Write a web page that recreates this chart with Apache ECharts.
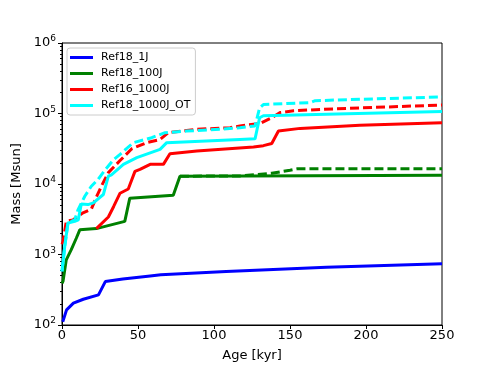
<!DOCTYPE html>
<html lang="en">
<head>
    <meta charset="UTF-8">
    <title>Mass vs Age</title>
    <script src="https://cdn.jsdelivr.net/npm/echarts@6/dist/echarts.min.js"></script>
    <style>
        body { margin: 0; background: #fff; }
    </style>
</head>
<body>
<div id="main" style="width: 491px;height:367px;"></div>
<script>
    // legend names
    var names = ['Ref18_1J', 'Ref18_100J', 'Ref16_1000J', 'Ref18_1000J_OT'];
    var xTicks = [0, 50, 100, 150, 200, 250];

    // Ref18_1J (solid)
    var ageBlue = [0.5, 3, 7.5, 14, 24, 28.5, 40, 58, 65, 108, 174, 250];
    var massBlue = [111, 164, 204, 232, 267, 413, 450, 496, 515, 574, 660, 738];

    // Ref18_100J solid / dashed
    var ageGreen = [0, 0.7, 2.8, 6.1, 9.4, 11.7, 22.6, 41.3, 44.6, 73.2, 77.6, 250];
    var massGreen = [390, 420, 840, 1170, 1700, 2240, 2330, 2950, 6300, 6900, 12900, 13300];
    var ageGreenD = [77.6, 117, 138, 150, 154.5, 250];
    var massGreenD = [12900, 13000, 14200, 15700, 16400, 16500];

    // Ref16_1000J solid / dashed
    var ageRed = [22.6, 30.5, 34, 38.2, 43.6, 48, 51.3, 58, 66.7, 71, 88.7, 126, 132.5, 138, 142.4, 156.7, 196, 250];
    var massRed = [2330, 3400, 4800, 7400, 8500, 15100, 16100, 19000, 19000, 26900, 29300, 33500, 35000, 37500, 56500, 61500, 68000, 74000];
    var ageRedD = [0, 0.7, 2.8, 7.2, 13.8, 19.3, 22.6, 25.9, 30.5, 38.2, 45.9, 55.8, 64.5, 70, 88.7, 110.6, 117, 130, 138, 143.5, 152.3, 172, 250];
    var massRedD = [1400, 1530, 2950, 3100, 3900, 4400, 6500, 9300, 14500, 21500, 31600, 38600, 42800, 53500, 59700, 63000, 66500, 72000, 87000, 103000, 109000, 115000, 132000];

    // Ref18_1000J_OT solid / dashed
    var ageCyan = [0, 1.8, 3.9, 8.4, 10.7, 12.7, 17.1, 20.6, 27.2, 30.5, 32.5, 40.4, 49.2, 64.5, 68.9, 117, 127, 130, 132.5, 250];
    var massCyan = [575, 1300, 2800, 2950, 3100, 5200, 5100, 5400, 7100, 12900, 13500, 19000, 23600, 31000, 38600, 42800, 43700, 87000, 93000, 107000];
    var ageCyanD = [0, 1.8, 3.9, 8.4, 10.5, 15, 19.3, 23.7, 28, 33.8, 38.2, 46.9, 59, 67.8, 82, 104, 117, 127, 130, 132.5, 163.3, 166.6, 250];
    var massCyanD = [575, 1300, 2800, 3100, 4300, 6700, 9300, 11600, 15500, 22000, 26300, 38600, 45400, 53500, 56400, 59700, 63000, 66500, 120000, 134000, 143000, 152000, 172000];

    function pairs(a, m) {
        var out = [];
        for (var i = 0; i < a.length; i++) {
            out.push([a[i], m[i]]);
        }
        return out;
    }

    // minor ticks 2..9 of each decade, in log10 units for the helper axis
    var minorTicks = [];
    for (var d = 2; d < 6; d++) {
        for (var k = 2; k < 10; k++) {
            minorTicks.push(d + Math.log10(k));
        }
    }

    function line(name, color, a, m, dashed) {
        return {
            name: name,
            type: 'line',
            data: pairs(a, m),
            showSymbol: false,
            symbol: 'none',
            silent: true,
            lineStyle: {color: color, width: 3, type: dashed ? [9, 4] : 'solid'},
            itemStyle: {color: color},
            animation: false
        };
    }

    var myChart = echarts.init(document.getElementById('main'));
    myChart.setOption({
        backgroundColor: '#fff',
        textStyle: {fontFamily: 'DejaVu Sans'},
        grid: {
            left: 62, right: 49, top: 43, bottom: 41,
            show: true, borderColor: '#000', borderWidth: 1
        },
        legend: {
            data: names.map(function (n) { return {name: n, icon: 'rect'}; }),
            orient: 'vertical',
            left: 67, top: 48,
            itemWidth: 23, itemHeight: 3,
            itemGap: 3,
            padding: [3, 5, 3, 3],
            backgroundColor: '#fff',
            borderColor: '#ccc', borderWidth: 1, borderRadius: 3,
            textStyle: {fontSize: 11, lineHeight: 13, color: '#000', padding: [0, 0, 0, 3]}
        },
        xAxis: {
            type: 'value',
            min: 0, max: 250, interval: 50,
            name: 'Age [kyr]',
            nameLocation: 'middle',
            nameGap: 24,
            nameTextStyle: {fontSize: 13, color: '#000'},
            axisLine: {lineStyle: {color: '#000'}},
            axisTick: {inside: false, length: 4, lineStyle: {color: '#000'}},
            axisLabel: {fontSize: 13, color: '#000', margin: 4},
            splitLine: {show: false}
        },
        yAxis: [{
            type: 'log',
            logBase: 10,
            min: 100, max: 1000000,
            name: 'Mass [Msun]',
            nameLocation: 'middle',
            nameGap: 38,
            nameTextStyle: {fontSize: 13, color: '#000'},
            axisLine: {lineStyle: {color: '#000'}},
            axisTick: {length: 4, lineStyle: {color: '#000'}},
            axisLabel: {
                fontSize: 13, color: '#000', margin: 6,
                formatter: function (v) {
                    return '10{sup|' + Math.round(Math.log10(v)) + '}';
                },
                rich: {sup: {fontSize: 9, padding: [0, 0, 8, 0]}}
            },
            splitLine: {show: false}
        }, {
            type: 'value',
            position: 'left',
            min: 2, max: 6,
            axisLine: {show: false},
            axisLabel: {show: false},
            splitLine: {show: false},
            axisTick: {show: true, length: 2, customValues: minorTicks, lineStyle: {color: '#000'}}
        }],
        series: [
            line('Ref18_1J', '#0000ff', ageBlue, massBlue, false),
            line('Ref18_100J', '#008000', ageGreen, massGreen, false),
            line('Ref18_100J_d', '#008000', ageGreenD, massGreenD, true),
            line('Ref16_1000J', '#ff0000', ageRed, massRed, false),
            line('Ref16_1000J_d', '#ff0000', ageRedD, massRedD, true),
            line('Ref18_1000J_OT', '#00ffff', ageCyan, massCyan, false),
            line('Ref18_1000J_OT_d', '#00ffff', ageCyanD, massCyanD, true)
        ]
    });
</script>
</body>
</html>
